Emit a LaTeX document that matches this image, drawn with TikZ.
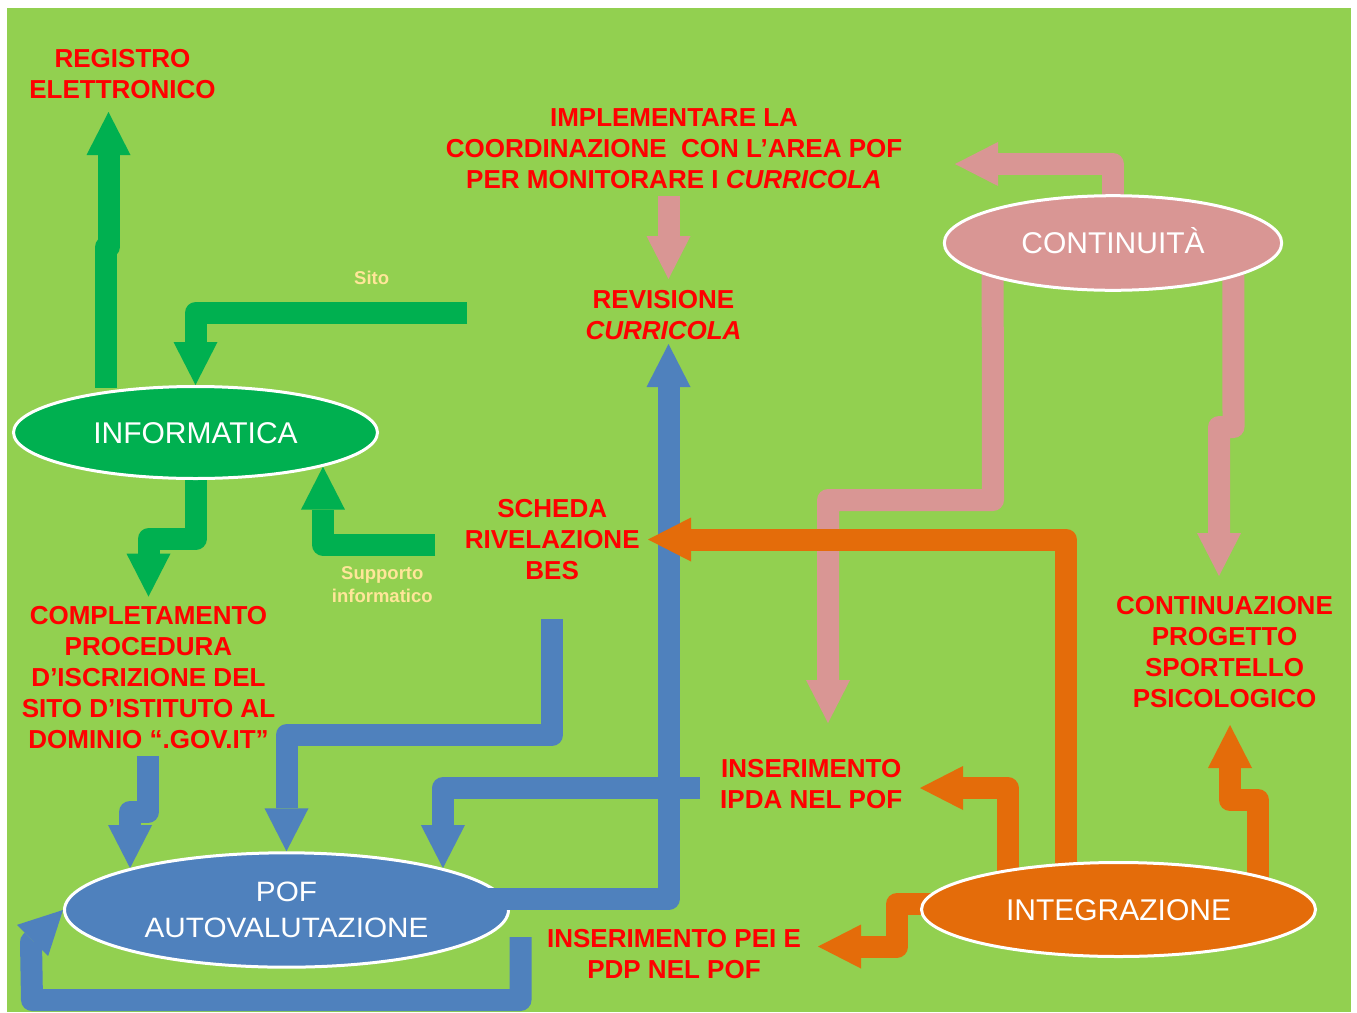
\documentclass[tikz,border=0pt]{standalone}
\usepackage{fontspec}
\setmainfont{Liberation Sans}
\newfontfamily\widefont[FakeStretch=1.06]{Liberation Sans}
\usetikzlibrary{arrows.meta,shapes.geometric,calc}
\definecolor{bggreen}{HTML}{92D050}
\definecolor{dkgreen}{HTML}{00B050}
\definecolor{pinkc}{HTML}{D99694}
\definecolor{bluec}{HTML}{4F81BD}
\definecolor{orangec}{HTML}{E46C0A}
\definecolor{redc}{HTML}{FF0000}
\definecolor{paley}{HTML}{FFE699}
\pgfdeclarelayer{back}
\pgfdeclarelayer{front}
\pgfdeclarelayer{top}
\pgfsetlayers{back,main,front,top}
\tikzset{
  blk/.style={line width=22pt, line join=round, line cap=butt,
    -{Triangle[width=44pt,length=43pt,line width=0pt]}},
  oval/.style={ellipse, draw=white, line width=3pt, inner sep=0pt, text=white},
  onel/.style={font=\fontsize{30}{36}\selectfont, text height=21.5pt, text depth=0pt},
  lbl/.style={text=redc, font=\bfseries\fontsize{26}{31}\selectfont, align=center, inner sep=0pt},
  sublbl/.style={text=paley, font=\bfseries\fontsize{18.5}{22.7}\selectfont, align=center, inner sep=0pt},
}
\begin{document}
\begin{tikzpicture}[x=1pt,y=-1pt]
\useasboundingbox (0,0) rectangle (1357,1012);
\begin{pgfonlayer}{back}
\fill[white] (0,0) rectangle (1357,1012);
\fill[bggreen] (7,8) rectangle (1351,1012);
\end{pgfonlayer}

% ellipse nodes
\node[oval, onel, fill=dkgreen, minimum width=364pt, minimum height=92pt] (info) at (195.5,432.5) {INFORMATICA};
\node[oval, onel, fill=pinkc, minimum width=337.4pt, minimum height=94.6pt] (cont) at (1113,243) {CONTINUITÀ};
\node[oval, fill=bluec, minimum width=444pt, minimum height=114.4pt, align=center,
      font=\widefont\fontsize{28}{36}\selectfont] (pof) at (286.5,910) {POF\\AUTOVALUTAZIONE};
\begin{pgfonlayer}{top}
\node[oval, onel, fill=orangec, minimum width=394pt, minimum height=94pt] (integ) at (1118.5,909.5) {INTEGRAZIONE};
\end{pgfonlayer}

% text labels
\node[lbl] (reg) at (122.5,74.2) {REGISTRO\\ELETTRONICO};
\node[lbl] (impl) at (674,148.2) {IMPLEMENTARE LA\\COORDINAZIONE\ \ CON L’AREA POF\\PER MONITORARE I \textit{CURRICOLA}};
\node[lbl] (rev) at (663.5,314.7) {REVISIONE\\\textit{CURRICOLA}};
\node[lbl] (bes) at (552.2,540) {SCHEDA\\RIVELAZIONE\\BES};
\node[lbl] (compl) at (148.5,678) {COMPLETAMENTO\\PROCEDURA\\D’ISCRIZIONE DEL\\SITO D’ISTITUTO AL\\DOMINIO “.GOV.IT”};
\node[lbl] (contp) at (1224.5,652) {CONTINUAZIONE\\PROGETTO\\SPORTELLO\\PSICOLOGICO};
\node[lbl] (ipda) at (811.2,783.7) {INSERIMENTO\\IPDA NEL POF};
\node[lbl] (pei) at (674,953.8) {INSERIMENTO PEI E\\PDP NEL POF};
\node[sublbl] (sito) at (371.7,277.5) {Sito};
\node[sublbl] (supp) at (382.3,584.7) {Supporto\\informatico};

% free ends
\coordinate (regtip) at (108.5,112);
\coordinate (sitos) at (467,313);
\coordinate (supps) at (435,544.5);
\coordinate (p1s) at (668.5,196);
\coordinate (p1t) at (668.5,279);
\coordinate (p2t) at (955,164);
\coordinate (p3t) at (828,723);
\coordinate (p4t) at (1219,576);
\coordinate (b3s) at (700,788);
\coordinate (b4t) at (668.5,344);
\coordinate (b5s) at (520.5,937);
\coordinate (o1t) at (648,539.5);
\coordinate (o2t) at (920,788);
\coordinate (o3t) at (818,946.5);
\coordinate (o4t) at (1230,725);

\begin{pgfonlayer}{back}
% green
\draw[blk,dkgreen] ($(info.north)+(-89.5,3)$) -- (106,247) -- (108.5,247) -- (regtip);
\draw[blk,dkgreen] (sitos) -| (info.north);
\draw[blk,dkgreen] (info.south) -- (195.5,539) -| ($(compl.north)+(0,-10)$);
\draw[blk,dkgreen] (supps) -| (info.-15);
% pink
\draw[blk,pinkc] (p1s) -- (p1t);
\draw[blk,pinkc] ($(cont.north)+(0,2)$) |- (p2t);
\draw[blk,pinkc] ($(cont.-164)+(0,-6)$) -- (993,500) -| (p3t);
\draw[blk,pinkc] ($(cont.-16)+(0,-6)$) -- (1233.5,427) -- (1219,427) -- (p4t);
% blue
\draw[blk,bluec] ($(compl.south)+(-0.5,7)$) -- (148,812) -| (pof.165);
\draw[blk,bluec] ($(bes.south)+(-0.2,39)$) -- (552,735) -| (pof.north);
\draw[blk,bluec] (b3s) -| (pof.15);
\draw[blk,bluec] (b5s) -- (520.5,1000) -- (32,1000) -- (31,942) -- (pof.west);
\end{pgfonlayer}

\begin{pgfonlayer}{front}
\draw[blk,bluec] ($(pof.east)+(-25,-11)$) -| (b4t);
% orange
\draw[blk,orangec] ($(integ.north)+(-52.5,10)$) |- (o1t);
\draw[blk,orangec] ($(integ.north)+(-111,22)$) |- (o2t);
\draw[blk,orangec] ($(integ.west)+(18,-5.5)$) -- (897,904) |- (o3t);
\draw[blk,orangec] ($(integ.north)+(139.5,22)$) -- (1258,800) -- (1230,800) -- (o4t);
\end{pgfonlayer}
\end{tikzpicture}
\end{document}
